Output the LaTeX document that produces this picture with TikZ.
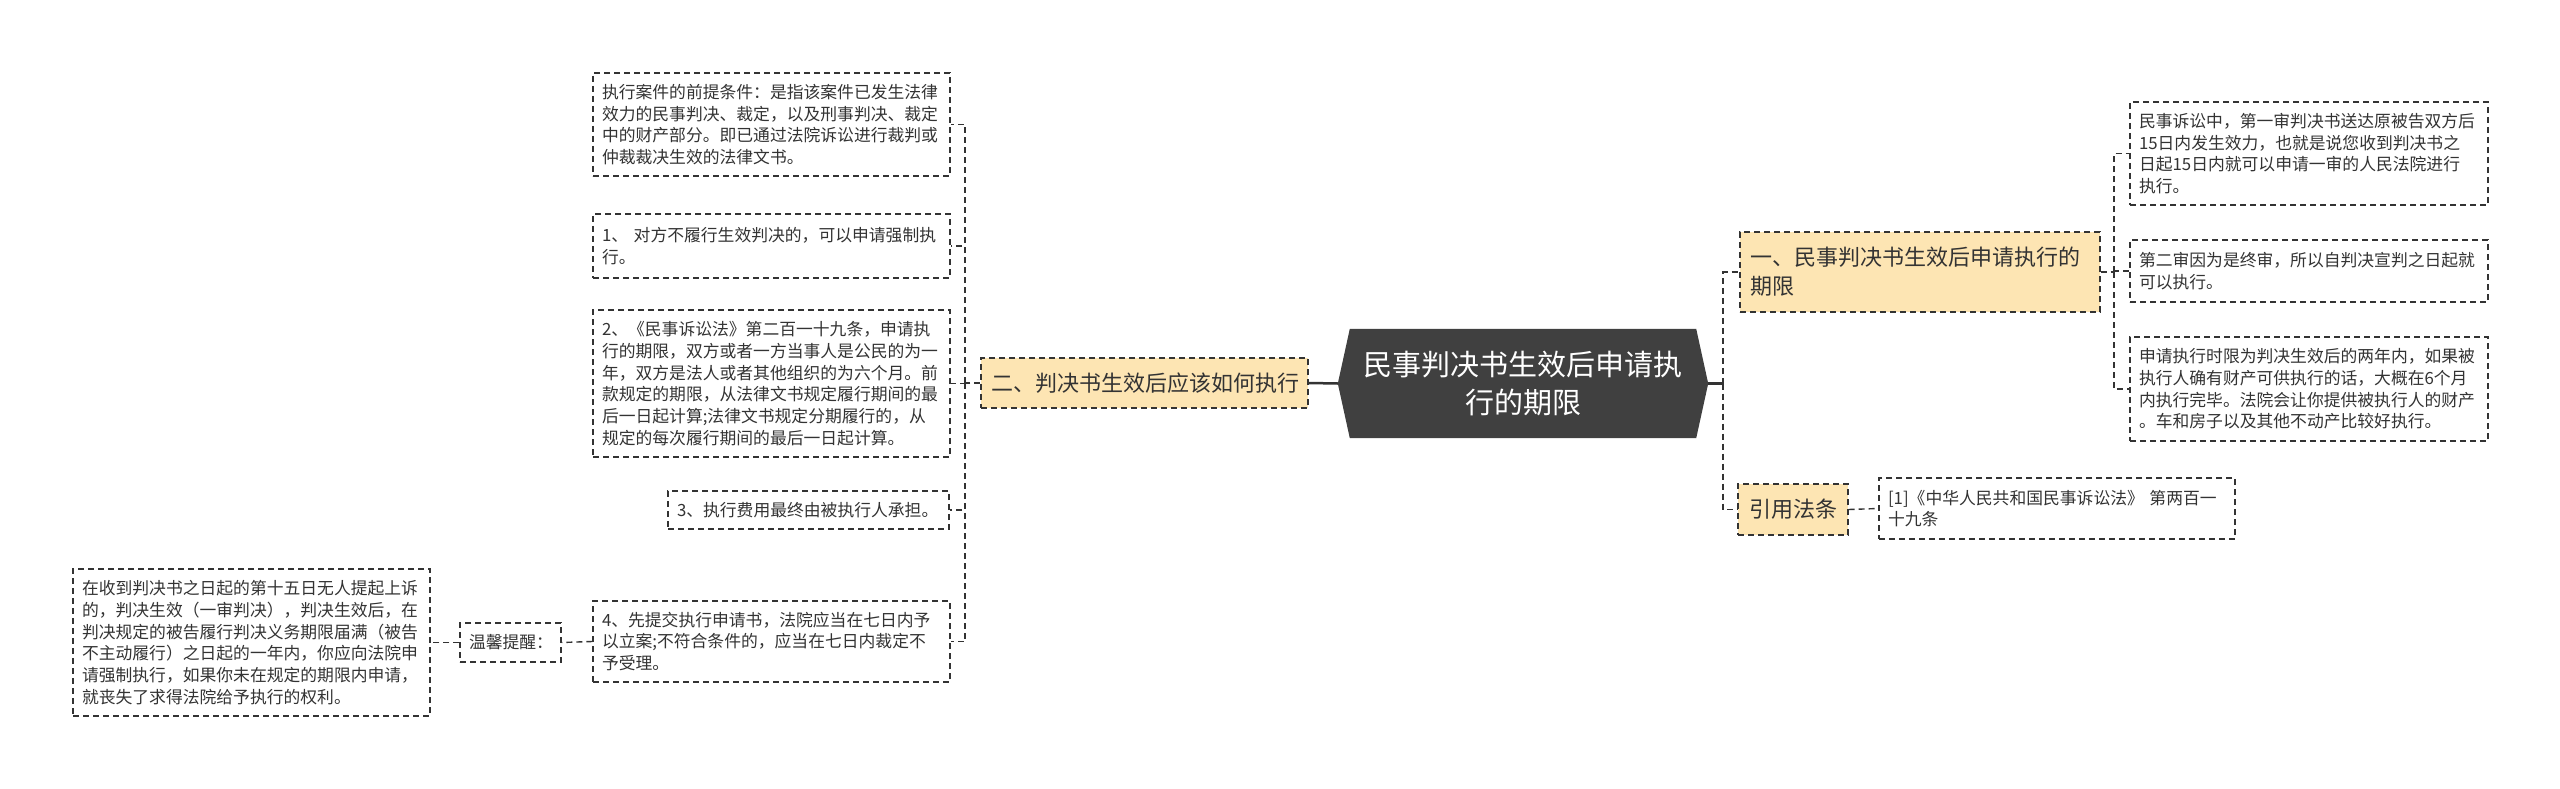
\documentclass[tikz,border=0pt]{standalone}
\usepackage{fontspec}
\setmainfont{Noto Sans CJK SC}
\usetikzlibrary{backgrounds}

\definecolor{rootgray}{HTML}{404040}
\definecolor{branchfill}{HTML}{FDE5B3}
\definecolor{linegray}{HTML}{333333}
\definecolor{textgray}{HTML}{333333}

\newcommand\leaffont{\fontsize{16.8}{21.7}\selectfont}
\newcommand\branchfont{\fontsize{22}{29}\selectfont}
\newcommand\rootfont{\fontsize{29}{38}\selectfont}

\tikzset{
  leaf/.style={draw=linegray, dash pattern=on 6pt off 4pt, line width=1.4pt,
    text=textgray, align=left, inner xsep=9pt, inner ysep=0pt, font=\leaffont},
  branch/.style={leaf, fill=branchfill, inner xsep=10pt, font=\branchfont},
  link/.style={draw=linegray, line width=1.4pt, dash pattern=on 6pt off 4pt},
  rootlink/.style={draw=linegray, line width=2.5pt},
}

\begin{document}
\begin{tikzpicture}[x=1pt,y=-1pt]
\useasboundingbox (0,0) rectangle (2560,789);

% centre topic
\node[text=white, align=center, font=\rootfont, minimum width=370pt, minimum height=109pt, inner sep=0pt] (root) at (1523,383.5) {民事判决书生效后申请执\\行的期限};

% main branches
\node[branch, text width=307pt, minimum height=50pt] (bHow) at (1144.5,383) {二、判决书生效后应该如何执行};
\node[branch, text width=340pt, minimum height=80pt] (bPeriod) at (1920,272) {一、民事判决书生效后申请执行的\\期限};
\node[branch, text width=88pt, minimum height=51pt, inner xsep=11pt] (bLaw) at (1793,509.5) {引用法条};

% left leaves
\node[leaf, text width=339pt, minimum height=103pt] (lBasis) at (771.5,124.5) {执行案件的前提条件：是指该案件已发生法律\\效力的民事判决、裁定，以及刑事判决、裁定\\中的财产部分。即已通过法院诉讼进行裁判或\\仲裁裁决生效的法律文书。};
\node[leaf, text width=339pt, minimum height=64pt] (lOne) at (771.5,246) {1、 对方不履行生效判决的，可以申请强制执\\行。};
\node[leaf, text width=339pt, minimum height=147pt] (lTwo) at (771.5,383.5) {2、《民事诉讼法》第二百一十九条，申请执\\行的期限，双方或者一方当事人是公民的为一\\年，双方是法人或者其他组织的为六个月。前\\款规定的期限，从法律文书规定履行期间的最\\后一日起计算;法律文书规定分期履行的，从\\规定的每次履行期间的最后一日起计算。};
\node[leaf, text width=263pt, minimum height=38pt] (lThree) at (808.5,510) {3、执行费用最终由被执行人承担。};
\node[leaf, text width=339pt, minimum height=81pt] (lFour) at (771.5,641.5) {4、先提交执行申请书，法院应当在七日内予\\以立案;不符合条件的，应当在七日内裁定不\\予受理。};
\node[leaf, text width=83pt, minimum height=39pt] (tip) at (510.5,642.5) {温馨提醒：};
\node[leaf, text width=339pt, minimum height=147pt] (lRemind) at (251.5,642.5) {在收到判决书之日起的第十五日无人提起上诉\\的，判决生效（一审判决），判决生效后，在\\判决规定的被告履行判决义务期限届满（被告\\不主动履行）之日起的一年内，你应向法院申\\请强制执行，如果你未在规定的期限内申请，\\就丧失了求得法院给予执行的权利。};

% right leaves
\node[leaf, text width=340pt, minimum height=103pt] (rFirst) at (2309,153.5) {民事诉讼中，第一审判决书送达原被告双方后\\15日内发生效力，也就是说您收到判决书之\\日起15日内就可以申请一审的人民法院进行\\执行。};
\node[leaf, text width=340pt, minimum height=62pt] (rSecond) at (2309,271) {第二审因为是终审，所以自判决宣判之日起就\\可以执行。};
\node[leaf, text width=340pt, minimum height=104pt] (rTerm) at (2309,389) {申请执行时限为判决生效后的两年内，如果被\\执行人确有财产可供执行的话，大概在6个月\\内执行完毕。法院会让你提供被执行人的财产\\。车和房子以及其他不动产比较好执行。};
\node[leaf, text width=338pt, minimum height=61pt] (rLaw) at (2057,508.5) {[1]《中华人民共和国民事诉讼法》 第两百一\\十九条};

% background and centre shape
\begin{scope}[on background layer]
\fill[white] (0,0) rectangle (2560,789);
\fill[rootgray] (root.west) -- ([xshift=12pt]root.north west) -- ([xshift=-12pt]root.north east) -- (root.east) -- ([xshift=-12pt]root.south east) -- ([xshift=12pt]root.south west) -- cycle;
\end{scope}

% connectors
\coordinate (rTrunk) at (1723,383.5);
\coordinate (lTrunk) at (965,383);
\coordinate (pTrunk) at (2114,272);

\draw[rootlink] (root.west) -- (bHow.east);
\draw[rootlink] (root.east) -- (rTrunk);
\draw[link] (rTrunk) |- (bPeriod.west);
\draw[link] (rTrunk) |- (bLaw.west);

\draw[link] (bHow.west) -- (lTrunk);
\foreach \n in {lBasis,lOne,lTwo,lThree,lFour}
  \draw[link] (lTrunk) |- (\n.east);
\draw[link] (lFour.west) -- (tip.east);
\draw[link] (tip.west) -- (lRemind.east);

\draw[link] (bPeriod.east) -- (pTrunk);
\foreach \n in {rFirst,rSecond,rTerm}
  \draw[link] (pTrunk) |- (\n.west);
\draw[link] (bLaw.east) -- (rLaw.west);

\end{tikzpicture}
\end{document}
